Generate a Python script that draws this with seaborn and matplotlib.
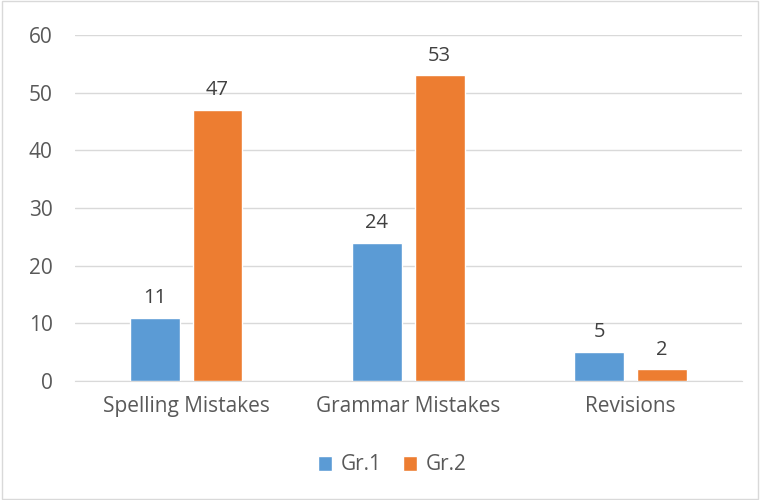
import pandas as pd
import matplotlib.pyplot as plt
import seaborn as sns
from matplotlib.patches import Rectangle

categories = ['Spelling Mistakes', 'Grammar Mistakes', 'Revisions']
gr1 = [11, 24, 5]
gr2 = [47, 53, 2]
groups = ['Gr.1', 'Gr.2']

df = pd.DataFrame({
    'category': categories * 2,
    'value': gr1 + gr2,
    'group': [groups[0]] * 3 + [groups[1]] * 3,
})

sns.set_style('white')
plt.rcParams['font.family'] = ['Open Sans', 'DejaVu Sans']
txt = '#595959'

fig = plt.figure(figsize=(7.6, 5), dpi=100)
ax = fig.add_axes([0.0987, 0.238, 0.877, 0.692])

sns.barplot(data=df, x='category', y='value', hue='group', order=categories,
            hue_order=groups, palette=['#5B9BD5', '#ED7D31'],
            width=0.565, gap=0.207, saturation=1, ax=ax, zorder=3)

for c in ax.containers:
    ax.bar_label(c, padding=7, fontsize=14.5, color='#404040')

ax.set_ylim(0, 60)
ax.set_xlim(-0.5, 2.5)
ax.set_yticks(range(0, 61, 10))
ax.yaxis.grid(True, color='#D9D9D9', linewidth=1, zorder=0)
ax.set_axisbelow(True)
for s in ['top', 'right', 'left']:
    ax.spines[s].set_visible(False)
ax.spines['bottom'].set_color('#D9D9D9')
ax.tick_params(axis='both', length=0, labelsize=15, colors=txt, pad=11)
ax.tick_params(axis='y', pad=16)
ax.set_xlabel('')
ax.set_ylabel('')

handles, labels = ax.get_legend_handles_labels()
ax.legend_.remove()
leg = fig.legend(handles, labels, loc='center', bbox_to_anchor=(0.516, 0.07), ncol=2,
                 frameon=False, fontsize=15, handlelength=0.7, handleheight=0.7,
                 columnspacing=1.0, handletextpad=0.4)
for t in leg.get_texts():
    t.set_color(txt)

fig.patches.append(Rectangle((0.002, 0.002), 0.996, 0.996, transform=fig.transFigure,
                             fill=False, edgecolor='#D9D9D9', linewidth=1))

fig.savefig('out.png', dpi=100)
